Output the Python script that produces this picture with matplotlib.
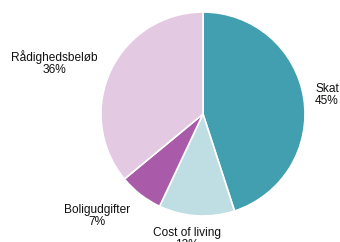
import matplotlib
matplotlib.use("Agg")
import matplotlib.pyplot as plt

categories = ["Skat", "Cost of living", "Boligudgifter", "Rådighedsbeløb"]
values = [45, 12, 7, 36]
colors = ["#419FAF", "#BFDEE3", "#A95BAA", "#E4C9E3"]

plt.rcParams['font.family'] = ['Liberation Sans', 'DejaVu Sans']

W, H = 340, 242
fig = plt.figure(figsize=(W / 100, H / 100), dpi=100)
ax = fig.add_axes([0, 0, 1, 1])

cx, cy, r = 203, H - 114, 102
ax.pie(values, colors=colors, startangle=90, counterclock=False,
       center=(cx, cy), radius=r, frame=False,
       wedgeprops=dict(edgecolor="white", linewidth=1.2))
ax.set_xlim(0, W)
ax.set_ylim(0, H)
ax.set_aspect("equal")
ax.axis("off")

# label anchor positions (pixel coords from top-left)
label_pos = {
    "Skat": (315, 95, "left"),
    "Cost of living": (187, 239, "center"),
    "Boligudgifter": (97, 216, "center"),
    "Rådighedsbeløb": (54, 63, "center"),
}
for cat, v in zip(categories, values):
    x, y, ha = label_pos[cat]
    ax.text(x, H - y, f"{cat}\n{v}%", ha=ha, va="center", fontsize=8.6,
            linespacing=1.05, color="#111111",
            multialignment="center" if ha == "center" else "left")

fig.savefig("out.png", dpi=100)
